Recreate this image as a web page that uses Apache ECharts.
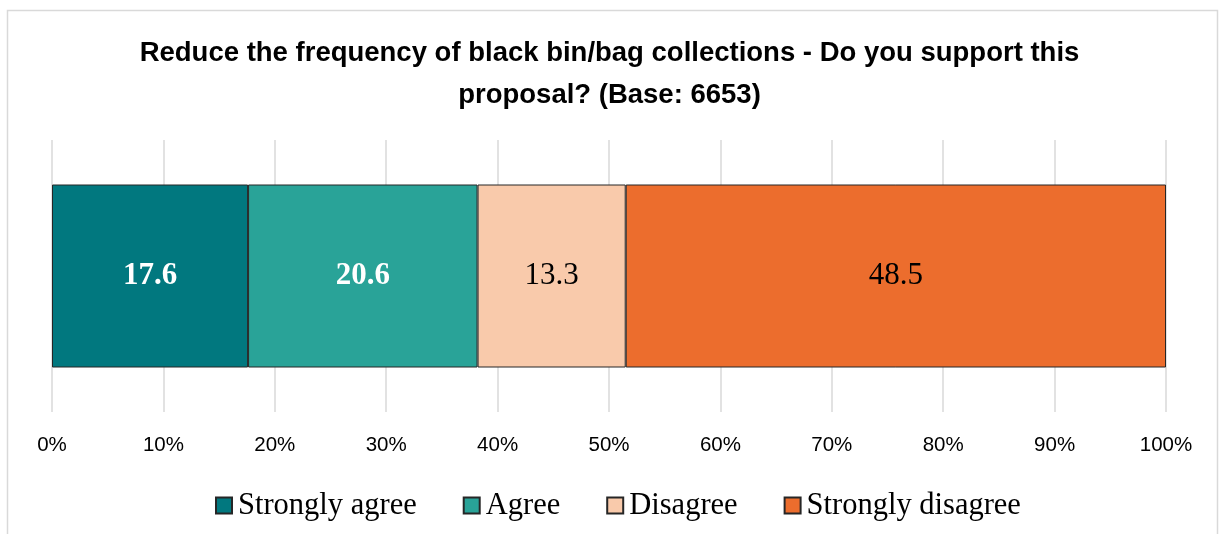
<!DOCTYPE html>
<html><head><meta charset="utf-8">
<script src="https://cdn.jsdelivr.net/npm/echarts@6/dist/echarts.min.js"></script>
<style>html,body{margin:0;padding:0;background:#fff}#c{width:1219px;height:534px}</style>
</head><body><div id="c"></div>
<script>
const titleText = 'Reduce the frequency of black bin/bag collections - Do you support this\nproposal? (Base: 6653)';
const categories = ['Reduce the frequency'];
const seriesNames = ['Strongly agree', 'Agree', 'Disagree', 'Strongly disagree'];
const seriesValues = [[17.6], [20.6], [13.3], [48.5]];
const colors = ['#01787F', '#29A398', '#F9CAAB', '#EC6D2D'];
const labelColors = ['#ffffff', '#ffffff', '#000000', '#000000'];
const labelWeights = ['bold', 'bold', 'normal', 'normal'];
const xTicks = [0, 10, 20, 30, 40, 50, 60, 70, 80, 90, 100];

const chart = echarts.init(document.getElementById('c'));
chart.setOption({
  animation: false,
  graphic: [{type: 'rect', shape: {x: 7.5, y: 10.5, width: 1210, height: 530}, style: {fill: 'none', stroke: '#d9d9d9', lineWidth: 1.5}, silent: true}],
  title: {
    text: titleText, left: 'center', top: 27,
    textStyle: {fontFamily: 'Liberation Sans', fontWeight: 'bold', fontSize: 27.5, lineHeight: 42, color: '#000'}
  },
  grid: {left: 52, right: 53, top: 140, bottom: 122},
  legend: {
    data: seriesNames, bottom: 8, left: 210, itemWidth: 16, itemHeight: 16, itemGap: 46,
    icon: 'rect',
    textStyle: {fontFamily: 'Liberation Serif', fontSize: 30.5, color: '#000', padding: [0, 0, 0, 1]}
  },
  xAxis: {
    type: 'value', min: 0, max: 100, interval: 10,
    axisLine: {show: false}, axisTick: {show: false},
    splitLine: {lineStyle: {color: '#d9d9d9', width: 1.5}},
    axisLabel: {formatter: v => v + '%', margin: 23, fontFamily: 'Liberation Sans', fontSize: 20.5, color: '#000'}
  },
  yAxis: {
    type: 'category', data: categories,
    axisLine: {show: false}, axisTick: {show: false}, axisLabel: {show: false}
  },
  series: seriesNames.map((n, i) => ({
    name: n, type: 'bar', stack: 'total', barWidth: 183,
    data: seriesValues[i],
    itemStyle: {color: colors[i], borderColor: '#262626', borderWidth: 1},
    label: {
      show: true, position: 'inside', formatter: p => p.value.toFixed(1),
      fontFamily: 'Liberation Serif', fontSize: 31, color: labelColors[i], fontWeight: labelWeights[i]
    }
  }))
});
</script></body></html>
